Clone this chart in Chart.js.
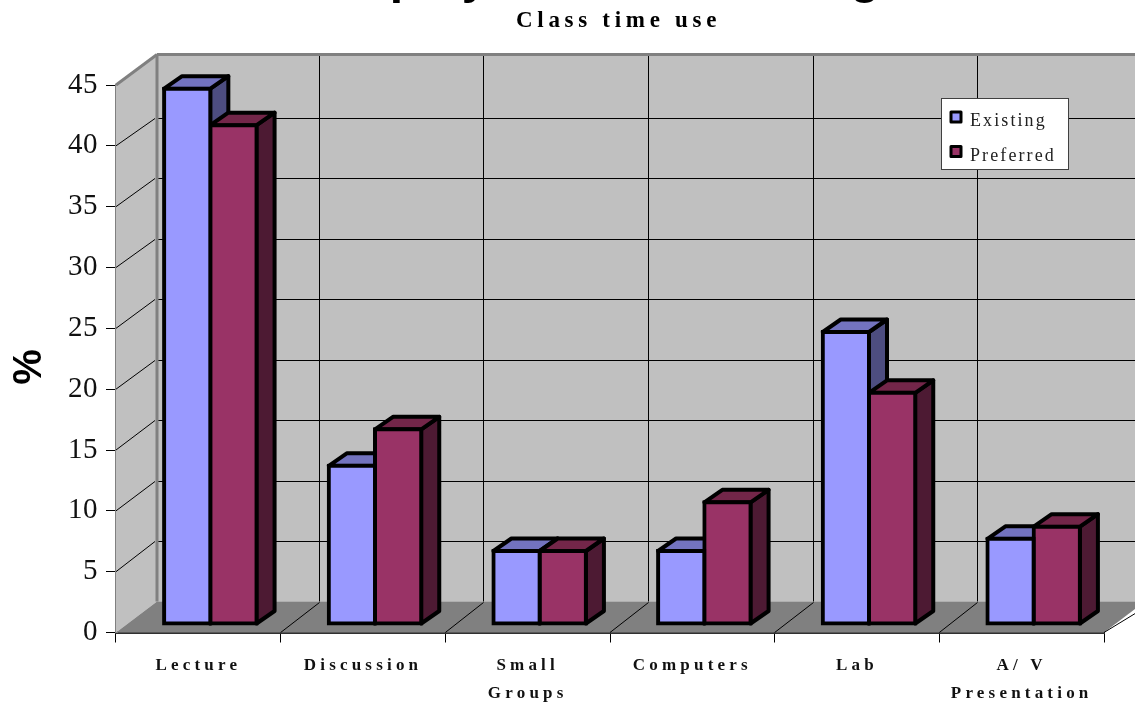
<!DOCTYPE html>
<html>
<head>
<meta charset="utf-8">
<style>
  html, body { margin: 0; padding: 0; background: #fff; }
  canvas { display: block; }
</style>
<script src="https://cdn.jsdelivr.net/npm/chart.js@4/dist/chart.umd.js"></script>
</head>
<body>
<canvas id="chart" width="1135" height="703"></canvas>
<script>
// Chart data
const categories = ['Lecture', 'Discussion', ['Small', 'Groups'], 'Computers', 'Lab', ['A/ V', 'Presentation']];
const existing = [44, 13, 6, 6, 24, 7];
const preferred = [41, 16, 6, 10, 19, 8];
const seriesNames = ['Existing', 'Preferred'];
const titleText = 'Employers and Teaching';
const subtitleText = 'Class time use';
const valueAxisTitle = '%';

// Colours of each box: front, top and side faces
const faces = [
  { front: '#9999FF', top: '#7373BF', side: '#4D4D80' },
  { front: '#993366', top: '#732649', side: '#4D1A33' }
];
const WALL = '#C0C0C0';
const FLOOR = '#808080';
const EDGE = '#808080';
const SERIF = '"Liberation Serif", "Times New Roman", serif';
const SANS = '"Liberation Sans", Arial, sans-serif';

// Projection of the box faces and of the back wall
const BAR_SHIFT = { x: 12, y: -8.5 };
const BAR_DEPTH = { x: 18, y: -12.5 };
const BAR_STROKE = 4;
const WALL_SHIFT = { x: 38, y: -31 };
const WALL_RIGHT = 1135;

// Scales whose labels carry their own letter spacing
class SpacedCategoryScale extends Chart.CategoryScale {
  static id = 'spacedCategory';
  static defaults = Chart.CategoryScale.defaults;
  drawLabels(area) {
    this.ctx.save();
    this.ctx.letterSpacing = '4.2px';
    super.drawLabels(area);
    this.ctx.restore();
  }
}
class SpacedLinearScale extends Chart.LinearScale {
  static id = 'spacedLinear';
  static defaults = Chart.LinearScale.defaults;
  drawLabels(area) {
    this.ctx.save();
    this.ctx.letterSpacing = '0.5px';
    super.drawLabels(area);
    this.ctx.restore();
  }
}
Chart.register(SpacedCategoryScale, SpacedLinearScale);

// Snap to the pixel grid so that one-pixel rules stay crisp
const crisp = v => Math.round(v) + 0.5;

function line(ctx, x1, y1, x2, y2) {
  ctx.beginPath();
  ctx.moveTo(x1, y1);
  ctx.lineTo(x2, y2);
  ctx.stroke();
}

function polygon(ctx, pts, fill, stroke, width) {
  ctx.beginPath();
  pts.forEach((p, i) => (i ? ctx.lineTo(p[0], p[1]) : ctx.moveTo(p[0], p[1])));
  ctx.closePath();
  ctx.fillStyle = fill;
  ctx.fill();
  if (stroke) {
    ctx.strokeStyle = stroke;
    ctx.lineWidth = width;
    ctx.lineJoin = 'round';
    ctx.stroke();
  }
}

// Walls, floor and their grid, all placed from the chart scales
const roomPlugin = {
  id: 'room',
  beforeDatasetsDraw(chart) {
    const { ctx, chartArea: a, scales: { x, y } } = chart;
    const backLeft = a.left + WALL_SHIFT.x + 3;
    const backTop = a.top + WALL_SHIFT.y + 0.5;
    const backBottom = a.bottom + WALL_SHIFT.y;
    // The back wall is very slightly foreshortened against the front plane
    const backY = v => backBottom + (y.getPixelForValue(v) - a.bottom) * 0.9942;

    ctx.save();
    polygon(ctx, [[backLeft, backTop], [WALL_RIGHT, backTop], [WALL_RIGHT, backBottom], [backLeft, backBottom]], WALL);
    polygon(ctx, [[a.left, a.top], [backLeft, backTop], [backLeft, backBottom], [a.left, a.bottom]], WALL);
    polygon(ctx, [[a.left, a.bottom], [a.right, a.bottom], [a.right + 41, backBottom], [backLeft, backBottom]], FLOOR);

    ctx.strokeStyle = '#000';
    ctx.lineWidth = 1;
    y.ticks.forEach(t => {
      if (t.value === 0 || t.value === y.max) return;
      const by = crisp(backY(t.value));
      line(ctx, a.left, y.getPixelForValue(t.value), backLeft - 2, by);
      line(ctx, backLeft, by, WALL_RIGHT, by);
    });
    categories.forEach((c, i) => {
      const tx = x.getPixelForTick(i) - x.width / categories.length / 2;
      if (i > 0) {
        const bx = crisp(tx + WALL_SHIFT.x);
        line(ctx, tx, a.bottom, bx, backBottom + 1);
        line(ctx, bx, backTop, bx, backBottom);
      }
    });
    line(ctx, a.right, a.bottom, a.right + 41, backBottom + 6);

    ctx.strokeStyle = EDGE;
    ctx.lineWidth = 3;
    line(ctx, a.left, a.top, backLeft, backTop);
    line(ctx, backLeft, backTop, WALL_RIGHT, backTop);
    line(ctx, backLeft, backTop, backLeft, backBottom);

    // Top and side faces of every box, shifted to the row the boxes stand in
    ctx.translate(BAR_SHIFT.x, BAR_SHIFT.y);
    chart.data.datasets.forEach((ds, di) => {
      chart.getDatasetMeta(di).data.forEach(el => {
        const r = el.x + el.width / 2;
        const l = el.x - el.width / 2;
        const d = BAR_DEPTH;
        polygon(ctx, [[r, el.y], [r + d.x, el.y + d.y], [r + d.x, el.base + d.y], [r, el.base]], faces[di].side, '#000', BAR_STROKE);
        polygon(ctx, [[l, el.y], [l + d.x, el.y + d.y], [r + d.x, el.y + d.y], [r, el.y]], faces[di].top, '#000', BAR_STROKE);
      });
    });
    ctx.restore();
    // This shift stays in force while the library draws the front faces
    ctx.save();
    ctx.translate(BAR_SHIFT.x, BAR_SHIFT.y);
  },
  afterDatasetsDraw(chart) {
    chart.ctx.restore();
  },
  afterDraw(chart) {
    const { ctx } = chart;
    ctx.save();
    ctx.fillStyle = '#000';

    // Main title, cut by the top of the page
    ctx.font = 'bold 48px ' + SANS;
    ctx.textAlign = 'left';
    ctx.textBaseline = 'alphabetic';
    ctx.fillText(titleText, 315, -7);

    // Subtitle
    ctx.font = 'bold 23px ' + SERIF;
    ctx.letterSpacing = '4.7px';
    ctx.fillText(subtitleText, 516, 27);
    ctx.letterSpacing = '0px';

    // Value axis title
    ctx.save();
    ctx.translate(41, 367);
    ctx.rotate(-Math.PI / 2);
    ctx.textAlign = 'center';
    ctx.font = 'bold 40px ' + SANS;
    ctx.fillText(valueAxisTitle, 0, 0);
    ctx.restore();

    // Legend box
    ctx.fillStyle = '#fff';
    ctx.fillRect(942, 99, 126, 70);
    ctx.strokeStyle = '#404040';
    ctx.lineWidth = 1;
    ctx.strokeRect(941.5, 98.5, 127, 71);
    seriesNames.forEach((name, i) => {
      const sy = 112 + i * 34.5;
      ctx.fillStyle = faces[i].front;
      ctx.strokeStyle = '#000';
      ctx.lineWidth = 3;
      ctx.lineJoin = 'round';
      ctx.fillRect(951, sy, 10, 10);
      ctx.strokeRect(951, sy, 10, 10);
      ctx.fillStyle = '#222';
      ctx.font = '18px ' + SERIF;
      ctx.letterSpacing = '2.1px';
      ctx.textBaseline = 'alphabetic';
      ctx.fillText(name, 970, sy + 14);
      ctx.letterSpacing = '0px';
    });
    ctx.restore();
  }
};

new Chart(document.getElementById('chart'), {
  type: 'bar',
  data: {
    labels: categories,
    datasets: [
      { label: seriesNames[0], data: existing, backgroundColor: faces[0].front },
      { label: seriesNames[1], data: preferred, backgroundColor: faces[1].front }
    ]
  },
  options: {
    responsive: false,
    animation: false,
    events: [],
    layout: { padding: { top: 85, right: 31, left: 0, bottom: 0 } },
    datasets: {
      bar: {
        borderColor: '#000',
        borderWidth: BAR_STROKE,
        borderSkipped: false,
        inflateAmount: BAR_STROKE / 2,
        clip: false,
        categoryPercentage: 0.5617,
        barPercentage: 1
      }
    },
    plugins: { legend: { display: false }, title: { display: false }, tooltip: { enabled: false } },
    scales: {
      x: {
        type: 'spacedCategory',
        offset: true,
        afterFit(scale) { scale.height = 70.5; },
        border: { color: '#303030', width: 2 },
        grid: { offset: true, drawOnChartArea: false, drawTicks: true, tickLength: 10, color: '#000' },
        ticks: {
          autoSkip: false,
          maxRotation: 0,
          padding: 9,
          color: '#111',
          font: { family: SERIF, size: 17, weight: 'bold', lineHeight: '28px' }
        }
      },
      y: {
        type: 'spacedLinear',
        min: 0,
        max: 45,
        afterFit(scale) { scale.width = 116; },
        border: { color: EDGE, width: 3 },
        grid: { drawOnChartArea: false, drawTicks: true, tickLength: 10, color: '#000' },
        ticks: {
          stepSize: 5,
          padding: 8,
          color: '#111',
          font: { family: SERIF, size: 29, weight: 'normal' }
        }
      }
    }
  },
  plugins: [roomPlugin]
});
</script>
</body>
</html>
